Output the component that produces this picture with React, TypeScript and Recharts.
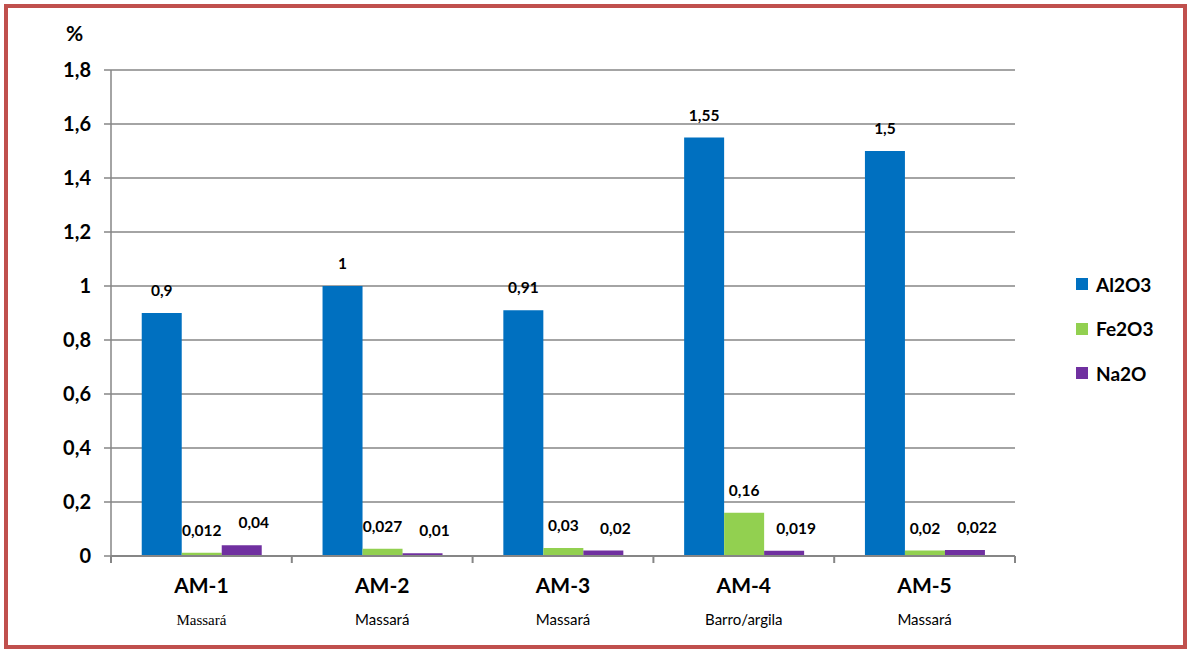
import { BarChart, Bar, XAxis, YAxis, CartesianGrid, LabelList } from "recharts";

const samples = ["AM-1", "AM-2", "AM-3", "AM-4", "AM-5"];
const materials = ["Massará", "Massará", "Massará", "Barro/argila", "Massará"];
const al2o3 = [0.9, 1, 0.91, 1.55, 1.5];
const fe2o3 = [0.012, 0.027, 0.03, 0.16, 0.02];
const na2o = [0.04, 0.01, 0.02, 0.019, 0.022];
const yTicks = [0, 0.2, 0.4, 0.6, 0.8, 1, 1.2, 1.4, 1.6, 1.8];

const series = [
  { key: "Al2O3", color: "#0070C0", dx: 0 },
  { key: "Fe2O3", color: "#92D050", dx: 0 },
  { key: "Na2O", color: "#7030A0", dx: 12 },
];

const data = samples.map((name, i) => ({
  name,
  Al2O3: al2o3[i],
  Fe2O3: fe2o3[i],
  Na2O: na2o[i],
}));

const FONT = "Lato, 'Open Sans', sans-serif";
const SERIF = "'Liberation Serif', 'DejaVu Serif', serif";
const AXIS = "#868686";
const BAND = 180.8;

const comma = (v: number | string) => String(v).replace(".", ",");

// category label + material name, plus the boundary ticks between categories
const SampleTick = (props: any) => {
  const { x, y, payload, index } = props;
  const last = index === samples.length - 1;
  return (
    <g>
      <line x1={x - BAND / 2} x2={x - BAND / 2} y1={y - 7} y2={y} stroke={AXIS} strokeWidth={2} />
      {last && (
        <line x1={x + BAND / 2} x2={x + BAND / 2} y1={y - 7} y2={y} stroke={AXIS} strokeWidth={2} />
      )}
      <text x={x} y={y + 30} textAnchor="middle" fontFamily={FONT} fontWeight={700} fontSize={21} fill="#000">
        {payload.value}
      </text>
      <text
        x={x}
        y={y + 62}
        textAnchor="middle"
        fontFamily={index === 0 ? SERIF : FONT}
        fontSize={15}
        fill="#000"
      >
        {materials[index]}
      </text>
    </g>
  );
};

export default function App() {
  return (
    <div style={{ position: "absolute", left: 0, top: 0, width: 1187, height: 650, background: "#fff" }}>
      <div
        style={{
          position: "absolute",
          left: 4,
          top: 4,
          width: 1175,
          height: 637,
          border: "4px solid #C0504D",
        }}
      />
      <div
        style={{
          position: "absolute",
          left: 66,
          top: 20,
          fontFamily: FONT,
          fontWeight: 700,
          fontSize: 21,
          color: "#000",
        }}
      >
        %
      </div>
      <div style={{ position: "absolute", left: 1076, top: 262, fontFamily: FONT }}>
        {series.map((s) => (
          <div key={s.key} style={{ display: "flex", alignItems: "center", height: 44.5 }}>
            <span style={{ width: 12, height: 12, background: s.color, marginRight: 8 }} />
            <span style={{ fontSize: 19, fontWeight: 700, color: "#000" }}>{s.key}</span>
          </div>
        ))}
      </div>
      <div style={{ position: "absolute", left: 0, top: 0 }}>
        <BarChart
          width={1187}
          height={650}
          data={data}
          margin={{ top: 70, right: 172, bottom: 0, left: 0 }}
          barCategoryGap="17%"
          barGap={0}
        >
          <CartesianGrid horizontal vertical={false} stroke={AXIS} strokeWidth={1.5} />
          <YAxis
            width={111}
            domain={[0, 1.8]}
            ticks={yTicks}
            interval={0}
            tickFormatter={comma}
            tick={{ fontFamily: FONT, fontWeight: 700, fontSize: 20, fill: "#000" }}
            tickSize={7}
            tickMargin={13}
            tickLine={{ stroke: AXIS, strokeWidth: 1.5 }}
            axisLine={{ stroke: AXIS, strokeWidth: 1.5 }}
          />
          <XAxis
            dataKey="name"
            height={94}
            interval={0}
            tickSize={7}
            tickMargin={0}
            tickLine={false}
            tick={<SampleTick />}
            axisLine={{ stroke: AXIS, strokeWidth: 2 }}
          />
          {series.map((s) => (
            <Bar key={s.key} dataKey={s.key} fill={s.color} isAnimationActive={false}>
              <LabelList
                dataKey={s.key}
                position="top"
                offset={17}
                dx={s.dx}
                formatter={comma}
                fontFamily={FONT}
                fontWeight={700}
                fontSize={15.5}
                fill="#000"
              />
            </Bar>
          ))}
        </BarChart>
      </div>
    </div>
  );
}
